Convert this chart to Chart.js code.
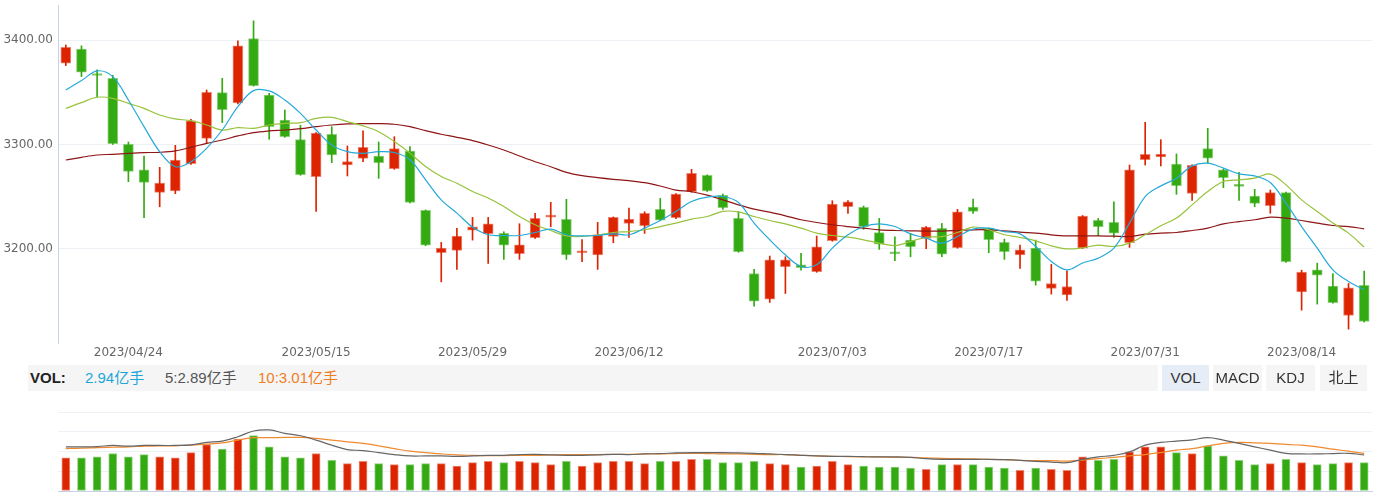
<!DOCTYPE html>
<html>
<head>
<meta charset="utf-8">
<script src="https://cdn.jsdelivr.net/npm/chart.js@4.4.1/dist/chart.umd.min.js"></script>
<style>
html,body{margin:0;padding:0;background:#fff;width:1376px;height:492px;overflow:hidden;}
#main{position:absolute;left:0;top:0;}
#vol{position:absolute;left:0;top:392px;}
#band{position:absolute;left:28px;top:365px;width:1130px;height:26px;background:#f5f5f5;font-family:"Liberation Sans","Noto Sans CJK SC",sans-serif;font-size:15px;line-height:26px;}
#band span{position:absolute;top:0;white-space:nowrap;}
.btn{position:absolute;top:365px;height:26px;line-height:26px;background:#f5f5f5;text-align:center;font-family:"Liberation Sans","Noto Sans CJK SC",sans-serif;font-size:15px;color:#333;}
</style>
</head>
<body>
<canvas id="main" width="1376" height="366"></canvas>
<div id="band">
  <span id="t0" style="left:2px;font-weight:bold;color:#222;">VOL:</span>
  <span id="t1" style="left:57px;color:#1ea6d9;"></span>
  <span id="t2" style="left:137px;color:#555;"></span>
  <span id="t3" style="left:230px;color:#f07d1e;"></span>
</div>
<div class="btn" style="left:1162px;width:47px;background:#e6edf7;">VOL</div>
<div class="btn" style="left:1213px;width:49px;">MACD</div>
<div class="btn" style="left:1266px;width:49px;">KDJ</div>
<div class="btn" style="left:1320px;width:47px;">北上</div>
<canvas id="vol" width="1376" height="100"></canvas>
<script>
const dates = [
 '2023/04/18','2023/04/19','2023/04/20','2023/04/21','2023/04/24','2023/04/25','2023/04/26','2023/04/27','2023/04/28',
 '2023/05/04','2023/05/05','2023/05/08','2023/05/09','2023/05/10','2023/05/11','2023/05/12','2023/05/15','2023/05/16',
 '2023/05/17','2023/05/18','2023/05/19','2023/05/22','2023/05/23','2023/05/24','2023/05/25','2023/05/26','2023/05/29',
 '2023/05/30','2023/05/31','2023/06/01','2023/06/02','2023/06/05','2023/06/06','2023/06/07','2023/06/08','2023/06/09',
 '2023/06/12','2023/06/13','2023/06/14','2023/06/15','2023/06/16','2023/06/19','2023/06/20','2023/06/21','2023/06/26',
 '2023/06/27','2023/06/28','2023/06/29','2023/06/30','2023/07/03','2023/07/04','2023/07/05','2023/07/06','2023/07/07',
 '2023/07/10','2023/07/11','2023/07/12','2023/07/13','2023/07/14','2023/07/17','2023/07/18','2023/07/19','2023/07/20',
 '2023/07/21','2023/07/24','2023/07/25','2023/07/26','2023/07/27','2023/07/28','2023/07/31','2023/08/01','2023/08/02',
 '2023/08/03','2023/08/04','2023/08/07','2023/08/08','2023/08/09','2023/08/10','2023/08/11','2023/08/14','2023/08/15',
 '2023/08/16','2023/08/17','2023/08/18'];

const shownDates = ['2023/04/24','2023/05/15','2023/05/29','2023/06/12','2023/07/03','2023/07/17','2023/07/31','2023/08/14'];
const priceTicks = [3200, 3300, 3400];

const opens = [3377.9,3391.4,3366.8,3363.5,3300.2,3275.8,3254.1,3255.4,3281.6,3305.9,3349.8,3339.8,3401.6,3347.5,3323.5,3304.6,3269.1,3309.8,3280.3,3286.7,3289.0,
 3276.8,3293.8,3236.8,3196.2,3198.4,3217.9,3214.4,3214.7,3195.2,3210.6,3230.4,3228.2,3196.2,3194.1,3211.8,3224.3,3222.1,3237.8,3229.8,3254.7,3270.4,
 3251.2,3229.1,3176.3,3151.7,3182.7,3184.6,3177.9,3207.7,3240.3,3239.7,3215.4,3196.5,3208.3,3209.9,3219.5,3201.0,3240.0,3219.5,3206.1,3194.1,3200.6,
 3162.0,3155.8,3200.6,3227.2,3225.3,3205.8,3285.4,3288.0,3281.3,3253.1,3296.0,3275.8,3260.5,3250.6,3241.3,3253.8,3158.7,3179.8,3164.2,3136.0,3164.8];
const highs = [3395.5,3394.6,3371.5,3366.4,3302.4,3289.0,3278.1,3299.2,3324.2,3352.3,3363.5,3399.4,3418.6,3349.1,3333.1,3318.4,3311.5,3317.1,3298.6,3313.0,3302.4,
 3307.5,3297.9,3237.2,3206.1,3219.5,3230.1,3230.1,3216.3,3224.0,3233.9,3244.5,3247.4,3208.9,3225.3,3230.5,3239.0,3235.5,3248.3,3253.0,3276.2,3270.9,
 3252.5,3235.5,3180.2,3193.0,3192.3,3195.5,3212.2,3246.1,3246.1,3241.0,3229.1,3211.5,3214.7,3221.3,3224.3,3237.8,3247.7,3220.0,3209.3,3203.5,3208.3,
 3185.0,3178.9,3231.9,3229.1,3245.1,3280.3,3321.3,3304.6,3290.9,3280.5,3315.5,3276.3,3273.3,3257.0,3256.3,3254.3,3179.5,3186.2,3176.3,3166.7,3178.6];
const lows = [3375.7,3365.1,3345.7,3300.0,3264.3,3229.8,3240.3,3252.8,3281.0,3301.1,3321.0,3339.0,3356.0,3305.0,3306.9,3270.5,3235.8,3282.6,3269.8,3283.5,3267.5,
 3276.2,3244.0,3203.0,3168.3,3180.2,3208.3,3185.9,3189.8,3189.8,3210.0,3221.1,3189.8,3187.5,3180.2,3205.8,3210.9,3214.7,3227.0,3228.8,3254.2,3254.9,
 3237.8,3196.6,3145.0,3148.5,3157.1,3179.5,3177.4,3207.2,3234.0,3218.6,3199.4,3188.5,3192.3,3200.0,3192.3,3200.5,3234.0,3196.2,3189.8,3181.1,3165.1,
 3156.5,3150.4,3200.1,3212.5,3210.9,3201.3,3280.3,3279.4,3252.2,3246.4,3281.9,3258.6,3246.4,3240.3,3234.0,3187.0,3141.1,3146.9,3147.7,3122.9,3129.7];
const closes = [3393.3,3369.3,3366.2,3300.8,3274.2,3263.7,3263.0,3285.1,3322.6,3350.1,3333.4,3394.6,3356.5,3317.1,3307.5,3271.0,3311.0,3289.9,3283.5,3297.3,3282.6,
 3296.0,3244.5,3203.5,3200.6,3212.2,3221.1,3224.0,3203.5,3203.8,3229.1,3231.7,3194.1,3197.4,3213.4,3230.1,3228.5,3233.9,3227.5,3252.5,3272.3,3255.4,
 3239.3,3197.1,3149.8,3189.4,3189.4,3181.8,3201.9,3242.9,3245.1,3221.1,3204.5,3195.2,3201.9,3220.8,3194.9,3235.5,3235.8,3208.6,3197.1,3198.9,3169.0,
 3166.7,3163.8,3231.4,3221.1,3215.0,3275.8,3290.6,3290.9,3260.5,3280.0,3287.0,3268.2,3259.8,3243.5,3253.8,3187.5,3177.6,3174.7,3148.2,3162.6,3130.2];

const ma5 = [3352.3,3361.3,3370.6,3365.1,3342.7,3317.1,3293.1,3278.7,3283.5,3296.3,3313.9,3336.3,3351.7,3351.4,3342.7,3329.9,3313.9,3299.5,3293.1,3291.5,3293.1,
 3292.3,3285.3,3266.1,3246.9,3234.2,3220.8,3213.4,3212.7,3212.7,3215.6,3218.8,3213.4,3212.4,3212.7,3214.3,3213.4,3219.8,3227.1,3235.8,3245.3,3249.5,
 3250.1,3244.4,3224.6,3208.6,3194.2,3183.0,3184.6,3200.6,3213.4,3221.3,3223.9,3221.3,3214.3,3210.2,3205.4,3211.7,3218.8,3219.8,3216.5,3214.3,3202.2,
 3187.8,3179.8,3186.3,3191.0,3200.6,3224.6,3250.1,3260.3,3267.7,3279.5,3282.1,3277.3,3271.8,3269.9,3263.5,3243.8,3221.3,3200.6,3179.8,3168.6,3160.7];
const ma10 = [3334.7,3340.2,3345.3,3344.3,3339.5,3334.7,3328.3,3324.5,3322.9,3318.7,3313.9,3316.2,3315.5,3318.7,3320.3,3321.0,3325.1,3326.1,3321.9,3317.8,3312.3,
 3302.8,3291.7,3278.9,3269.3,3262.9,3254.9,3248.6,3240.5,3230.9,3223.0,3217.5,3212.4,3211.8,3213.4,3215.6,3216.5,3218.2,3221.3,3224.6,3228.4,3230.9,
 3235.8,3235.4,3230.9,3227.1,3223.9,3219.8,3215.0,3212.7,3211.1,3208.6,3205.4,3203.1,3206.9,3211.1,3211.7,3215.6,3220.8,3218.2,3213.4,3210.8,3207.6,
 3202.8,3199.9,3200.9,3203.5,3202.2,3205.4,3213.4,3222.0,3229.4,3242.1,3254.9,3264.5,3266.1,3267.7,3271.6,3261.3,3246.9,3235.7,3224.6,3215.0,3201.6];
const ma30 = [3285.1,3287.7,3289.9,3290.6,3291.5,3292.2,3292.5,3293.8,3297.3,3301.1,3304.3,3308.2,3311.4,3313.0,3313.9,3315.2,3317.1,3318.7,3319.7,3320.0,3320.0,
 3319.4,3317.1,3313.3,3309.8,3306.9,3303.7,3299.5,3294.7,3289.0,3283.5,3278.7,3273.3,3270.1,3268.2,3266.6,3265.3,3263.4,3260.2,3256.3,3254.7,3251.5,
 3246.9,3242.1,3238.0,3235.1,3231.6,3227.8,3225.2,3223.0,3221.3,3219.8,3218.2,3217.5,3217.2,3216.9,3216.9,3217.5,3218.2,3218.2,3217.2,3215.9,3215.0,
 3213.4,3212.4,3212.4,3212.4,3212.1,3211.7,3214.0,3215.0,3215.6,3217.5,3219.8,3223.9,3226.1,3227.8,3230.3,3229.4,3227.1,3224.6,3222.3,3221.3,3219.1];

// volume in 亿手
const volumes = [3.43,3.43,3.54,3.89,3.54,3.78,3.54,3.43,3.99,4.83,4.34,5.39,5.74,4.59,3.54,3.43,3.89,3.19,2.84,3.08,
 2.84,2.73,2.73,2.84,2.84,2.59,2.94,3.08,2.94,3.08,2.94,2.73,3.08,2.59,2.94,3.08,3.08,2.84,3.08,3.08,
 3.29,3.29,2.94,2.94,3.08,2.84,2.73,2.49,2.59,3.08,2.73,2.59,2.49,2.49,2.38,2.24,2.73,2.73,2.73,2.49,
 2.38,2.14,2.38,2.24,2.14,3.54,3.19,3.29,4.06,4.59,4.59,3.99,3.89,4.69,3.64,3.19,2.73,2.84,3.29,2.94,
 2.73,2.84,2.94,2.94];
const volMa5 = [3.54,3.54,3.56,3.65,3.59,3.65,3.65,3.65,3.70,3.89,4.00,4.35,4.81,4.89,4.62,4.43,4.08,3.67,3.32,3.24,
 3.08,2.92,2.81,2.81,2.81,2.78,2.81,2.86,2.86,2.92,2.94,2.89,2.86,2.86,2.89,2.94,2.92,2.97,3.00,3.05,
 3.08,3.08,3.08,3.05,3.02,2.97,2.92,2.86,2.81,2.78,2.78,2.75,2.73,2.73,2.70,2.59,2.54,2.54,2.54,2.54,
 2.51,2.46,2.38,2.32,2.27,2.54,2.73,2.86,3.13,3.67,3.89,4.00,4.10,4.27,4.08,3.81,3.54,3.27,3.02,2.97,
 2.97,3.00,3.02,2.89];
const volMa10 = [3.40,3.43,3.48,3.51,3.54,3.59,3.62,3.62,3.67,3.75,3.86,4.08,4.27,4.27,4.29,4.29,4.21,4.08,3.94,3.81,
 3.62,3.40,3.19,3.08,2.97,2.89,2.86,2.84,2.84,2.86,2.86,2.89,2.92,2.92,2.92,2.94,2.94,2.97,2.97,3.00,
 3.02,3.00,2.97,2.97,2.94,2.92,2.92,2.86,2.81,2.78,2.75,2.73,2.73,2.70,2.70,2.65,2.62,2.59,2.57,2.54,
 2.51,2.46,2.43,2.43,2.40,2.48,2.59,2.70,2.81,2.92,3.08,3.27,3.40,3.62,3.81,3.89,3.86,3.81,3.73,3.67,
 3.54,3.35,3.19,3.01];

const UP = '#dd2400', DOWN = '#33aa11';
const UP_EDGE = 'rgba(221,36,0,0.55)', DOWN_EDGE = 'rgba(51,170,17,0.55)';
const isUp = closes.map((c, i) => c >= opens[i]);
const fill = isUp.map(u => u ? UP : DOWN);
const edge = isUp.map(u => u ? UP_EDGE : DOWN_EDGE);

document.getElementById('t1').textContent = volumes[volumes.length - 1].toFixed(2) + '亿手';
document.getElementById('t2').textContent = '5:' + volMa5[volMa5.length - 1].toFixed(2) + '亿手';
document.getElementById('t3').textContent = '10:' + volMa10[volMa10.length - 1].toFixed(2) + '亿手';

const FONT = {family: '"DejaVu Sans", sans-serif', size: 12};
const lineDs = (data, color, extra) => Object.assign({
  type: 'line', data, borderColor: color, borderWidth: 1.2, pointRadius: 0,
  tension: 0.35, fill: false, order: 0
}, extra || {});

new Chart(document.getElementById('main'), {
  type: 'bar',
  data: {
    labels: dates,
    datasets: [
      lineDs(ma5, '#26a9d9'),
      lineDs(ma10, '#98c23c'),
      lineDs(ma30, '#8e1616'),
      {label: 'body', data: dates.map((d, i) => [opens[i], closes[i]]), backgroundColor: fill,
       borderColor: edge, borderWidth: 1, borderSkipped: false, barThickness: 10, minBarLength: 2,
       grouped: false, order: 1},
      {label: 'wick', data: dates.map((d, i) => [lows[i], highs[i]]), backgroundColor: fill,
       borderWidth: 0, barThickness: 1, grouped: false, order: 2}
    ]
  },
  options: {
    responsive: false, animation: false, devicePixelRatio: 1,
    layout: {padding: {left: 0, right: 4, top: 5, bottom: 0}},
    plugins: {legend: {display: false}, tooltip: {enabled: false}},
    scales: {
      x: {
        grid: {display: false, drawTicks: false}, border: {display: false},
        ticks: {autoSkip: false, maxRotation: 0, minRotation: 0, padding: 3, color: '#666', font: FONT,
          callback: (v, i) => shownDates.includes(dates[i]) ? dates[i] : ''},
        afterFit: s => { s.height = 23; s.paddingLeft = 0; s.paddingRight = 0; }
      },
      y: {
        min: 3109.6, max: 3433.8,
        grid: {color: '#edf0f4', drawTicks: false}, border: {color: '#c6d2e6'},
        ticks: {padding: 5, color: '#666', font: FONT, callback: v => Number(v).toFixed(2)},
        afterBuildTicks: s => { s.ticks = priceTicks.map(v => ({value: v})); },
        afterFit: s => { s.width = 58; s.paddingTop = 0; s.paddingBottom = 0; }
      }
    }
  }
});

new Chart(document.getElementById('vol'), {
  type: 'bar',
  data: {
    labels: dates,
    datasets: [
      lineDs(volMa5, '#666666', {yAxisID: 'y2', tension: 0.4}),
      lineDs(volMa10, '#f08a2e', {yAxisID: 'y2', tension: 0.4}),
      {data: volumes, backgroundColor: fill, borderColor: edge, borderWidth: 1, borderSkipped: false,
       barThickness: 8, yAxisID: 'y', order: 1}
    ]
  },
  options: {
    responsive: false, animation: false, devicePixelRatio: 1,
    layout: {padding: {left: 58, right: 4, top: 20, bottom: 1}},
    plugins: {legend: {display: false}, tooltip: {enabled: false}},
    scales: {
      x: {
        ticks: {display: false}, grid: {display: false, drawTicks: false},
        border: {display: true, color: '#c6d2e6'},
        afterFit: s => { s.height = 0; s.paddingLeft = 0; s.paddingRight = 0; }
      },
      y: {
        min: 0, max: 8.2,
        ticks: {display: false, count: 5}, grid: {color: '#edf0f4', drawTicks: false},
        border: {display: false},
        afterFit: s => { s.width = 0; s.paddingTop = 0; s.paddingBottom = 0; }
      },
      y2: {display: false, min: 0, max: 6.33}
    }
  }
});
</script>
</body>
</html>
